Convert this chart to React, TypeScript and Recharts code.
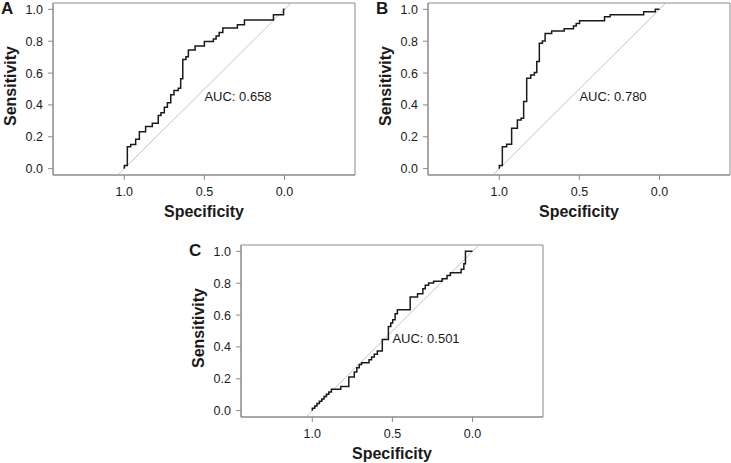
import { ComposedChart, Line, XAxis, YAxis, ReferenceLine, ReferenceArea, ReferenceDot, Label } from "recharts";

// ROC points (specificity, sensitivity)
const specA = [1.0, 1.0, 0.981, 0.981, 0.96, 0.96, 0.929, 0.929, 0.906, 0.906, 0.867, 0.867, 0.825, 0.825, 0.788, 0.788, 0.771, 0.771, 0.75, 0.75, 0.731, 0.731, 0.71, 0.71, 0.69, 0.69, 0.663, 0.663, 0.648, 0.648, 0.635, 0.635, 0.615, 0.615, 0.6, 0.6, 0.558, 0.558, 0.5, 0.5, 0.444, 0.444, 0.427, 0.427, 0.408, 0.408, 0.385, 0.385, 0.294, 0.294, 0.25, 0.25, 0.069, 0.069, 0.006, 0.006, 0.0];
const sensA = [0.0, 0.019, 0.019, 0.138, 0.138, 0.151, 0.151, 0.184, 0.184, 0.232, 0.232, 0.264, 0.264, 0.285, 0.285, 0.333, 0.333, 0.351, 0.351, 0.385, 0.385, 0.414, 0.414, 0.464, 0.464, 0.49, 0.49, 0.504, 0.504, 0.565, 0.565, 0.686, 0.686, 0.703, 0.703, 0.745, 0.745, 0.77, 0.77, 0.799, 0.799, 0.814, 0.814, 0.833, 0.833, 0.854, 0.854, 0.883, 0.883, 0.904, 0.904, 0.933, 0.933, 0.967, 0.967, 1.0, 1.0];

const specB = [1.0, 1.0, 0.981, 0.981, 0.954, 0.954, 0.923, 0.923, 0.887, 0.887, 0.864, 0.864, 0.848, 0.848, 0.829, 0.829, 0.804, 0.804, 0.781, 0.781, 0.766, 0.766, 0.75, 0.75, 0.731, 0.731, 0.714, 0.714, 0.673, 0.673, 0.595, 0.595, 0.537, 0.537, 0.52, 0.52, 0.499, 0.499, 0.343, 0.343, 0.308, 0.308, 0.099, 0.099, 0.026, 0.026, 0.0];
const sensB = [0.0, 0.019, 0.019, 0.138, 0.138, 0.153, 0.153, 0.253, 0.253, 0.305, 0.305, 0.316, 0.316, 0.421, 0.421, 0.567, 0.567, 0.588, 0.588, 0.603, 0.603, 0.672, 0.672, 0.787, 0.787, 0.801, 0.801, 0.849, 0.849, 0.864, 0.864, 0.879, 0.879, 0.895, 0.895, 0.912, 0.912, 0.929, 0.929, 0.954, 0.954, 0.967, 0.967, 0.985, 0.985, 1.0, 1.0];

const specC = [1.0, 1.0, 0.985, 0.985, 0.971, 0.971, 0.956, 0.956, 0.941, 0.941, 0.927, 0.927, 0.912, 0.912, 0.897, 0.897, 0.881, 0.881, 0.822, 0.822, 0.772, 0.772, 0.738, 0.738, 0.722, 0.722, 0.707, 0.707, 0.692, 0.692, 0.646, 0.646, 0.63, 0.63, 0.613, 0.613, 0.594, 0.594, 0.563, 0.563, 0.525, 0.525, 0.51, 0.51, 0.498, 0.498, 0.483, 0.483, 0.469, 0.469, 0.389, 0.389, 0.343, 0.343, 0.31, 0.31, 0.295, 0.295, 0.274, 0.274, 0.243, 0.243, 0.19, 0.19, 0.159, 0.159, 0.138, 0.138, 0.071, 0.071, 0.054, 0.054, 0.044, 0.044, 0.0];
const sensC = [0.0, 0.015, 0.015, 0.029, 0.029, 0.044, 0.044, 0.059, 0.059, 0.073, 0.073, 0.088, 0.088, 0.103, 0.103, 0.117, 0.117, 0.134, 0.134, 0.151, 0.151, 0.211, 0.211, 0.243, 0.243, 0.27, 0.27, 0.289, 0.289, 0.301, 0.301, 0.32, 0.32, 0.337, 0.337, 0.354, 0.354, 0.374, 0.374, 0.446, 0.446, 0.529, 0.529, 0.55, 0.55, 0.571, 0.571, 0.609, 0.609, 0.634, 0.634, 0.713, 0.713, 0.734, 0.734, 0.766, 0.766, 0.787, 0.787, 0.801, 0.801, 0.812, 0.812, 0.828, 0.828, 0.849, 0.849, 0.866, 0.866, 0.887, 0.887, 0.923, 0.923, 1.0, 1.0];

const panelLetters = ["A", "B", "C"];
const aucLabels = ["AUC: 0.658", "AUC: 0.780", "AUC: 0.501"];
const xTicks = [1.0, 0.5, 0.0];
const yTicks = [0.0, 0.2, 0.4, 0.6, 0.8, 1.0];
const chanceX = [1.04, -0.04];
const chanceY = [-0.04, 1.04];

const X_DOMAIN: [number, number] = [-0.44, 1.445];
const Y_DOMAIN: [number, number] = [-0.04, 1.04];
const FONT = '"Liberation Sans", Arial, Helvetica, sans-serif';
const BOX = "#8a8a8a";
const INK = "#1a1a1a";

type PanelProps = {
  spec: number[];
  sens: number[];
  letter: string;
  auc: string;
  left: number;
  top: number;
};

function RocPanel({ spec, sens, letter, auc, left, top }: PanelProps) {
  const data = spec.map((s, i) => ({ spec: s, sens: sens[i] }));

  return (
    <div style={{ position: "absolute", left, top, width: 360, height: 221 }}>
      <div
        style={{
          position: "absolute",
          left: 1,
          top: 0,
          fontFamily: FONT,
          fontWeight: "bold",
          fontSize: 17,
          lineHeight: 1,
          color: INK,
        }}
      >
        {letter}
      </div>
      <ComposedChart
        width={360}
        height={221}
        data={data}
        margin={{ top: 3, right: 5, bottom: 3, left: 13 }}
        style={{ fontFamily: FONT }}
      >
        <XAxis
          dataKey="spec"
          type="number"
          domain={X_DOMAIN}
          allowDataOverflow
          reversed
          ticks={xTicks}
          tickFormatter={(v: number) => v.toFixed(1)}
          height={43}
          tickSize={5}
          tickMargin={7}
          stroke={BOX}
          tick={{ fill: INK, fontSize: 12.5 }}
        >
          <Label
            value="Specificity"
            position="insideBottom"
            offset={1}
            style={{ fontWeight: "bold", fontSize: 16, fill: INK }}
          />
        </XAxis>
        <YAxis
          dataKey="sens"
          type="number"
          domain={Y_DOMAIN}
          allowDataOverflow
          ticks={yTicks}
          tickFormatter={(v: number) => v.toFixed(1)}
          width={40}
          tickSize={5}
          tickMargin={5}
          stroke={BOX}
          tick={{ fill: INK, fontSize: 12.5 }}
        >
          <Label
            content={(props: any) => {
              const vb = props.viewBox;
              const cx = vb.x + 3;
              const cy = vb.y + vb.height / 2 - 3;
              return (
                <text
                  transform={`translate(${cx},${cy}) rotate(-90)`}
                  textAnchor="middle"
                  fontWeight="bold"
                  fontSize={16}
                  fill={INK}
                >
                  Sensitivity
                </text>
              );
            }}
          />
        </YAxis>
        <ReferenceArea
          x1={X_DOMAIN[0]}
          x2={X_DOMAIN[1]}
          y1={Y_DOMAIN[0]}
          y2={Y_DOMAIN[1]}
          fill="none"
          stroke={BOX}
          strokeWidth={1}
          ifOverflow="visible"
        />
        <ReferenceLine
          segment={[
            { x: chanceX[0], y: chanceY[0] },
            { x: chanceX[1], y: chanceY[1] },
          ]}
          stroke="#c4c4c4"
          strokeWidth={1}
        />
        <ReferenceDot
          x={0.5}
          y={0.5}
          r={1}
          fill="none"
          stroke="none"
          label={(props: any) => {
            const vb = props.viewBox;
            return (
              <text x={vb.x + vb.width / 2} y={vb.y + vb.height / 2} dy="0.9em" fontSize={13} fill={INK}>
                {auc}
              </text>
            );
          }}
        />
        <Line
          type="linear"
          dataKey="sens"
          stroke={INK}
          strokeWidth={1.5}
          dot={false}
          activeDot={false}
          isAnimationActive={false}
        />
      </ComposedChart>
    </div>
  );
}

export default function App() {
  return (
    <div
      style={{
        position: "absolute",
        left: 0,
        top: 0,
        width: 731,
        height: 463,
        overflow: "hidden",
        background: "#fff",
      }}
    >
      <RocPanel spec={specA} sens={sensA} letter={panelLetters[0]} auc={aucLabels[0]} left={0} top={0} />
      <RocPanel spec={specB} sens={sensB} letter={panelLetters[1]} auc={aucLabels[1]} left={375} top={0} />
      <RocPanel spec={specC} sens={sensC} letter={panelLetters[2]} auc={aucLabels[2]} left={188} top={242} />
    </div>
  );
}
